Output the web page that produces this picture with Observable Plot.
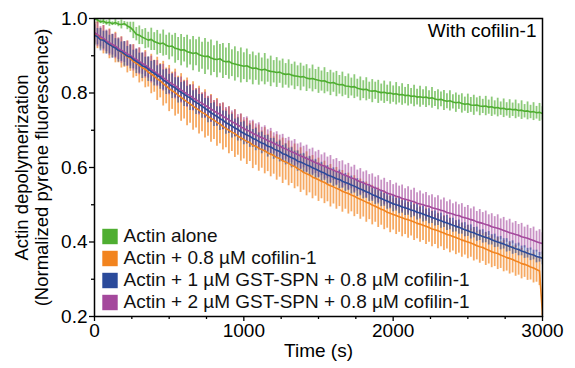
<!DOCTYPE html>
<html>
<head>
<meta charset="utf-8">
<script src="https://cdn.jsdelivr.net/npm/d3@7"></script>
<script src="https://cdn.jsdelivr.net/npm/@observablehq/plot@0.6"></script>
<style>
  html, body { margin: 0; padding: 0; background: #fff; }
  #chart { width: 575px; height: 368px; }
</style>
</head>
<body>
<div id="chart"></div>
<script>
// ---- Data (samples every 20 s from 0 to 3000 s) ----
const seriesNames = [
  "Actin alone",
  "Actin + 0.8 µM cofilin-1",
  "Actin + 1 µM GST-SPN + 0.8 µM cofilin-1",
  "Actin + 2 µM GST-SPN + 0.8 µM cofilin-1"
];
const seriesColors = ["#4fae31", "#f2841f", "#2b4b9b", "#a4489c"];
const timeMax = 3000;
const xTicks = [0, 1000, 2000, 3000];
const xMinorTicks = [250, 500, 750, 1250, 1500, 1750, 2250, 2500, 2750];
const yTicks = [0.2, 0.4, 0.6, 0.8, 1.0];
const yMinorTicks = [0.3, 0.5, 0.7, 0.9];
const panelTitle = "With cofilin-1";
const yTitle1 = "Actin depolymerization";
const yTitle2 = "(Normalized pyrene fluorescence)";
const xTitle = "Time (s)";

const greenMean = [
  1.000, .996, .991, .993, .988, .990, .986, .989, .985, .984, .986, .980, .976,
  .968, .958, .955, .950, .946, .942, .944, .938, .935, .932, .934, .928, .925,
  .926, .920, .918, .915, .916, .911, .909, .906, .908, .903, .900, .898, .899, .894, .891,
  .890, .892, .886, .884, .885, .880, .878, .876, .874, .872,
  .873, .869, .866, .867, .864, .862, .864, .860, .858, .857, .855, .856, .852, .850, .851,
  .848, .846, .845, .843, .844, .840, .838, .839, .836, .834,
  .832, .833, .829, .827, .828, .824, .822, .823, .819, .818, .816, .817, .813, .811, .809,
  .810, .806, .805, .806, .803, .801, .802, .799, .800, .797,
  .798, .795, .796, .793, .794, .791, .792, .789, .790, .788, .789, .786, .787, .784, .782,
  .783, .780, .778, .779, .776, .774, .775, .772, .770, .771,
  .768, .767, .768, .765, .764, .765, .762, .763, .760, .761, .758, .759, .756, .757, .755,
  .756, .753, .754, .751, .752, .749, .750, .747, .748, .745
];
const greenErr = [
  .006, .010, .005, .009, .006, .011, .005, .008, .007, .012, .006, .010, .014,
  .022, .018, .025, .020, .027, .021, .030, .024, .033, .026, .035, .027, .036,
  .029, .040, .031, .042, .033, .044, .034, .046, .035, .047, .036, .048, .037, .048, .036,
  .049, .038, .047, .037, .048, .036, .046, .035, .047, .036,
  .045, .034, .044, .033, .043, .032, .042, .031, .041, .030, .040, .030, .039, .029, .038,
  .029, .037, .028, .037, .028, .036, .027, .036, .027, .035,
  .027, .035, .026, .034, .026, .034, .025, .033, .025, .033, .024, .032, .024, .032, .024,
  .031, .023, .031, .023, .031, .023, .030, .022, .030, .022,
  .030, .022, .029, .022, .029, .021, .029, .021, .028, .021, .028, .020, .028, .020, .027,
  .020, .027, .020, .027, .019, .026, .019, .026, .019, .026,
  .020, .027, .019, .026, .019, .026, .019, .026, .019, .025, .018, .025, .018, .025, .018,
  .025, .018, .025, .018, .024, .018, .024, .017, .024, .018
];

const orangeMean = [
  .960, .955, .946, .943, .936, .932, .926, .922, .914, .909, .903,
  .897, .893, .885, .880, .874, .868, .864, .856, .851, .845,
  .838, .833, .825, .819, .812, .806, .801, .794, .788, .782,
  .776, .771, .765, .759, .754, .748, .744, .737, .732, .727,
  .721, .717, .710, .705, .700, .695, .691, .684, .680, .675,
  .670, .667, .660, .657, .652, .648, .645, .639, .636, .632,
  .627, .624, .618, .615, .611, .606, .603, .597, .593, .587,
  .583, .580, .574, .571, .567, .563, .560, .555, .551, .548,
  .544, .541, .536, .533, .530, .526, .523, .518, .515, .511,
  .507, .504, .499, .496, .492, .488, .485, .480, .477, .474,
  .471, .468, .465, .462, .460, .457, .454, .450, .448, .445,
  .442, .439, .435, .433, .430, .427, .424, .420, .418, .415,
  .412, .409, .405, .403, .400, .397, .394, .390, .387, .385,
  .381, .378, .374, .371, .369, .365, .362, .358, .356, .353,
  .349, .346, .342, .340, .337, .333, .330, .326, .322, .205
];
const orangeErr = [
  .030, .036, .028, .038, .030, .040, .031, .041, .033, .042, .034,
  .043, .035, .045, .036, .047, .038, .050, .040, .053, .043,
  .058, .046, .060, .048, .062, .050, .063, .051, .064, .052,
  .064, .052, .065, .053, .064, .052, .065, .053, .064, .052,
  .064, .053, .063, .052, .063, .052, .064, .051, .063, .052,
  .062, .051, .063, .051, .062, .050, .062, .050, .061, .050,
  .061, .050, .061, .049, .060, .049, .060, .049, .060, .048,
  .059, .048, .058, .048, .058, .047, .057, .047, .057, .046,
  .056, .046, .056, .045, .055, .045, .055, .044, .054, .044,
  .054, .044, .053, .043, .053, .043, .052, .043, .052, .042,
  .051, .042, .051, .042, .050, .041, .050, .041, .049, .041,
  .049, .040, .048, .040, .048, .040, .047, .039, .047, .039,
  .046, .039, .046, .038, .045, .038, .045, .038, .044, .037,
  .044, .037, .043, .037, .043, .036, .042, .036, .042, .036,
  .041, .035, .041, .035, .040, .035, .040, .034, .039, .004
];

const blueMean = [
  .955, .951, .943, .942, .935, .930, .925, .921, .914, .911, .905,
  .899, .897, .890, .885, .880, .873, .870, .864, .858, .853,
  .847, .843, .835, .830, .824, .818, .814, .807, .802, .797,
  .791, .787, .780, .775, .770, .764, .759, .753, .747, .742,
  .737, .731, .727, .720, .716, .711, .706, .702, .696, .692,
  .687, .684, .678, .675, .670, .666, .663, .657, .655, .650,
  .646, .643, .637, .635, .630, .626, .623, .617, .615, .611,
  .607, .604, .599, .596, .592, .588, .585, .580, .577, .574,
  .570, .568, .563, .560, .557, .553, .550, .546, .542, .539,
  .535, .532, .527, .524, .520, .517, .513, .510, .506, .503,
  .500, .498, .494, .492, .489, .486, .484, .480, .478, .475,
  .472, .469, .466, .463, .460, .457, .454, .451, .448, .445,
  .442, .440, .436, .433, .430, .427, .425, .421, .418, .415,
  .412, .410, .406, .403, .400, .397, .395, .391, .388, .385,
  .382, .380, .376, .373, .370, .367, .365, .361, .359, .356
];
const blueErr = [
  .028, .022, .030, .024, .031, .025, .032, .025, .031, .026, .033,
  .026, .032, .025, .033, .027, .034, .026, .033, .027, .034,
  .026, .033, .027, .034, .026, .033, .027, .034, .026, .033,
  .027, .034, .026, .033, .026, .032, .026, .033, .025, .032,
  .026, .032, .025, .031, .025, .032, .024, .031, .025, .031,
  .024, .030, .024, .030, .023, .029, .023, .029, .023, .028,
  .022, .028, .022, .028, .022, .027, .021, .027, .021, .027,
  .021, .026, .021, .026, .020, .026, .020, .025, .020, .025,
  .019, .025, .019, .024, .019, .024, .019, .024, .018, .023,
  .018, .023, .018, .023, .018, .022, .017, .022, .017, .022,
  .017, .022, .017, .021, .017, .021, .016, .021, .016, .021,
  .016, .020, .016, .020, .016, .020, .015, .020, .015, .019,
  .015, .019, .015, .019, .015, .019, .014, .019, .014, .018,
  .014, .018, .014, .018, .014, .018, .014, .018, .013, .018,
  .013, .017, .013, .017, .013, .017, .013, .017, .013, .017
];

const purpleMean = [
  .962, .957, .951, .947, .940, .935, .930, .926, .919, .915, .910,
  .905, .901, .894, .890, .885, .879, .875, .868, .863, .858,
  .852, .847, .841, .835, .830, .824, .820, .813, .808, .803,
  .797, .793, .787, .782, .777, .772, .767, .762, .757, .752,
  .747, .743, .737, .733, .728, .723, .719, .714, .709, .705,
  .700, .697, .692, .688, .684, .680, .677, .672, .669, .665,
  .661, .658, .653, .650, .646, .642, .639, .635, .631, .628,
  .624, .621, .617, .613, .610, .606, .604, .599, .596, .593,
  .589, .587, .582, .579, .576, .572, .570, .565, .562, .559,
  .555, .553, .548, .545, .542, .538, .536, .531, .529, .526,
  .523, .521, .517, .515, .513, .510, .508, .504, .502, .500,
  .497, .496, .492, .490, .488, .485, .483, .479, .477, .475,
  .472, .471, .467, .465, .463, .460, .458, .454, .452, .450,
  .447, .445, .441, .439, .437, .434, .431, .428, .425, .423,
  .420, .418, .414, .412, .410, .407, .404, .401, .398, .396
];
const purpleErr = [
  .028, .033, .027, .034, .029, .035, .028, .034, .029, .035, .028,
  .034, .029, .035, .028, .036, .029, .035, .028, .036, .029,
  .035, .029, .036, .028, .035, .029, .036, .028, .035, .029,
  .036, .028, .035, .029, .036, .028, .035, .029, .036, .028,
  .035, .029, .036, .028, .035, .029, .036, .028, .035, .029,
  .036, .028, .035, .029, .036, .028, .035, .029, .036, .028,
  .035, .029, .036, .028, .035, .029, .036, .028, .035, .029,
  .036, .028, .035, .029, .036, .028, .035, .029, .036, .028,
  .035, .029, .036, .028, .035, .029, .036, .028, .035, .029,
  .036, .028, .035, .029, .036, .028, .035, .029, .036, .028,
  .035, .029, .036, .028, .035, .029, .036, .028, .035, .029,
  .036, .028, .035, .029, .036, .028, .035, .029, .036, .028,
  .035, .029, .036, .028, .035, .029, .036, .028, .035, .029,
  .036, .028, .035, .029, .036, .028, .035, .029, .036, .028,
  .035, .029, .036, .028, .035, .029, .036, .028, .035, .029
];

const seriesMeans = [greenMean, orangeMean, blueMean, purpleMean];
const seriesErrs = [greenErr, orangeErr, blueErr, purpleErr];

// ---- Build a tidy table for Plot ----
const rows = seriesNames.flatMap((name, s) => {
  const m = seriesMeans[s], e = seriesErrs[s];
  return m.map((v, i) => {
    const err = e[i] ?? e[e.length - 1];
    return {series: name, t: i * timeMax / (m.length - 1), v, lo: v - err, hi: v + err};
  });
});

const font = "'Liberation Sans', Arial, Helvetica, sans-serif";
const drawOrder = [0, 1, 3, 2]; // green, orange, purple, blue (blue on top)
const barOpacity = [0.65, 0.7, 0.6, 0.6];
const fs = 19;

const marks = [];
for (const s of drawOrder) {
  marks.push(Plot.ruleX(rows, {
    filter: d => d.series === seriesNames[s],
    x: "t", y1: "lo", y2: "hi",
    stroke: seriesColors[s], strokeOpacity: barOpacity[s], strokeWidth: 1.8, clip: true
  }));
}
for (const s of drawOrder) {
  marks.push(Plot.line(rows, {
    filter: d => d.series === seriesNames[s],
    x: "t", y: "v",
    stroke: seriesColors[s], strokeWidth: 1.6, clip: true
  }));
}

// axes (with the two-line y title given as two axis labels)
marks.push(
  Plot.axisY(yTicks, {tickSize: 5, tickPadding: 2, tickFormat: d3.format(".1f"), label: null, fontSize: fs, strokeWidth: 1.3}),
  Plot.axisY(yMinorTicks, {tickSize: 3, tickFormat: () => "", label: null, strokeWidth: 1.3}),
  Plot.axisY([], {label: yTitle1, labelAnchor: "center", labelOffset: 80, labelArrow: "none", fontSize: 18.5}),
  Plot.axisY([], {label: yTitle2, labelAnchor: "center", labelOffset: 60, labelArrow: "none", fontSize: 18.5}),
  Plot.axisX(xTicks, {tickSize: 5, tickPadding: 2, tickFormat: d3.format("d"), label: null, fontSize: fs, strokeWidth: 1.3}),
  Plot.axisX(xMinorTicks, {tickSize: 3, tickFormat: () => "", label: null, strokeWidth: 1.3}),
  Plot.axisX([], {label: xTitle, labelAnchor: "center", labelOffset: 40, labelArrow: "none", fontSize: fs}),
  Plot.frame({stroke: "black", strokeWidth: 1.5})
);

// panel title
marks.push(
  Plot.text([panelTitle], {frameAnchor: "top-right", textAnchor: "end", lineAnchor: "top", dx: -6, dy: 5, fontSize: fs, fill: "black"})
);

// legend inside the plot, bottom-left
const legendRowOffsets = [-80, -58, -36, -14];
seriesNames.forEach((name, s) => {
  marks.push(
    Plot.dot([name], {frameAnchor: "bottom-left", symbol: "square", r: 8.7, fill: seriesColors[s], stroke: "none",
      dx: 15.5, dy: legendRowOffsets[s]}),
    Plot.text([name], {frameAnchor: "bottom-left", textAnchor: "start", lineAnchor: "middle",
      dx: 29, dy: legendRowOffsets[s] - 1, fontSize: fs, fill: "#111"})
  );
});

const chart = Plot.plot({
  width: 575,
  height: 368,
  marginLeft: 94,
  marginRight: 33,
  marginTop: 18,
  marginBottom: 52,
  style: {fontFamily: font, fontSize: "19px", color: "black", background: "white", overflow: "visible"},
  x: {domain: [0, timeMax]},
  y: {domain: [0.2, 1.0]},
  marks
});
document.getElementById("chart").appendChild(chart);
</script>
</body>
</html>
